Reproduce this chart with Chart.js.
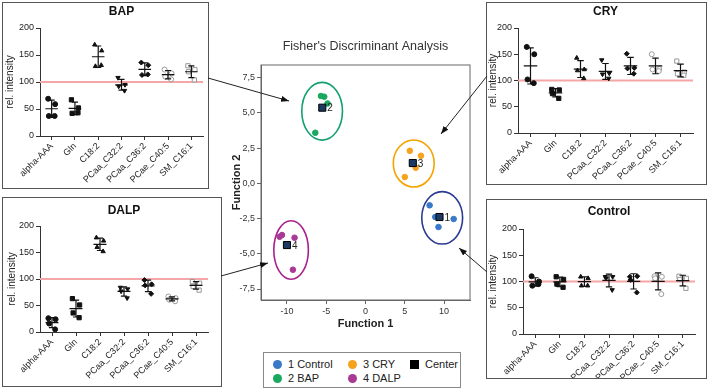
<!DOCTYPE html>
<html>
<head>
<meta charset="utf-8">
<script src="https://cdn.jsdelivr.net/npm/chart.js@4.4.1/dist/chart.umd.min.js"></script>
<style>
  body { margin: 0; width: 708px; height: 390px; background: #fff; position: relative; overflow: hidden;
         font-family: "Liberation Sans", Arial, sans-serif; }
  .panel { position: absolute; box-sizing: border-box; border: 1px solid #555; background: #fff; }
  .panel canvas, #fisher canvas { position: absolute; left: 0; top: 0; }
  #fisher { position: absolute; left: 222px; top: 28px; width: 254px; height: 306px; }
  #legend { position: absolute; left: 263px; top: 352px; width: 198px; height: 36px; box-sizing: border-box;
            border: 1px solid #888; padding: 4px 0 0 9px; display: grid; grid-auto-flow: column;
            grid-template-rows: 14px 14px; grid-template-columns: 75px 62px auto;
            font-size: 11px; color: #222; }
  #legend .item { display: flex; align-items: center; white-space: nowrap; }
  #legend .sw { width: 9px; height: 9px; border-radius: 50%; margin-right: 6px; }
  #legend .sq { border-radius: 0; background: #000; }
  #arrows { position: absolute; left: 0; top: 0; pointer-events: none; }
</style>
</head>
<body>
<div class="panel" style="left:2px;top:2px;width:207px;height:187px"><canvas id="bap" width="205" height="185"></canvas></div>
<div class="panel" style="left:2px;top:197px;width:220px;height:190px"><canvas id="dalp" width="218" height="188"></canvas></div>
<div class="panel" style="left:486px;top:2px;width:221px;height:183px"><canvas id="cry" width="219" height="181"></canvas></div>
<div class="panel" style="left:486px;top:199px;width:221px;height:180px"><canvas id="control" width="219" height="178"></canvas></div>
<div id="fisher"><canvas id="fisherCanvas" width="254" height="306"></canvas></div>
<div id="legend"></div>
<svg id="arrows" width="708" height="390">
  <defs>
    <marker id="ah" markerWidth="8" markerHeight="6" refX="8" refY="3" orient="auto" markerUnits="userSpaceOnUse">
      <path d="M0,0 L8,3 L0,6 z" fill="#111"/>
    </marker>
  </defs>
  <line x1="208" y1="78" x2="289" y2="101" stroke="#222" stroke-width="1" marker-end="url(#ah)"/>
  <line x1="487" y1="76" x2="441" y2="134" stroke="#222" stroke-width="1" marker-end="url(#ah)"/>
  <line x1="221" y1="276" x2="268" y2="263" stroke="#222" stroke-width="1" marker-end="url(#ah)"/>
  <line x1="487" y1="272" x2="459" y2="248" stroke="#222" stroke-width="1" marker-end="url(#ah)"/>
</svg>
<script>
// metabolites on the dot plots
const metabolites = ['alpha-AAA', 'Gln', 'C18:2', 'PCaa_C32:2', 'PCaa_C36:2', 'PCae_C40:5', 'SM_C16:1'];

// rel. intensity, 4 samples per metabolite
const bapValues = [[69, 59, 37, 37], [67, 52, 42, 43], [169, 158, 129, 131], [108, 95, 92, 84],
                   [136, 131, 113, 114], [123, 116, 110, 105], [130, 123, 119, 104]];
const cryValues = [[164, 150, 102, 95], [83, 82, 75, 66], [143, 121, 119, 104], [139, 114, 112, 104],
                   [151, 124, 123, 113], [150, 122, 121, 118], [137, 116, 113, 110]];
const dalpValues = [[26, 24, 16, 5], [63, 51, 36, 27], [178, 172, 160, 152], [84, 81, 77, 64],
                    [98, 90, 88, 72], [67, 64, 61, 58], [95, 92, 86, 79]];
const controlValues = [[110, 100, 92, 95], [109, 104, 95, 89], [109, 106, 92, 92], [109, 109, 106, 84],
                       [109, 110, 103, 79], [110, 109, 106, 76], [110, 106, 104, 87]];
const yTicks = [0, 50, 100, 150, 200];
const refLevel = 100;

// Fisher discriminant scores
const groupNames = ['1 Control', '2 BAP', '3 CRY', '4 DALP'];
const controlF1 = [8.16, 8.88, 11.22, 9.29];
const controlF2 = [-1.56, -2.39, -2.53, -3.1];
const bapF1 = [-5.67, -5.25, -4.83, -6.39];
const bapF2 = [6.2, 6.15, 5.67, 3.59];
const cryF1 = [5.64, 7.06, 6.39, 5.0];
const cryF2 = [2.31, 1.96, 1.11, 0.45];
const dalpF1 = [-10.93, -10.63, -9.03, -9.24];
const dalpF2 = [-3.79, -3.67, -3.86, -6.13];
const centerF1 = [9.42, -5.5, 6.02, -10.0];
const centerF2 = [-2.39, 5.37, 1.44, -4.38];
const centerLabels = ['1', '2', '3', '4'];
const ellipseCx = [9.76, -5.52, 6.14, -9.47];
const ellipseCy = [-2.45, 5.12, 1.41, -4.73];
const ellipseRx = [2.6, 2.59, 2.6, 2.2];
const ellipseRy = [1.86, 2.05, 1.67, 2.08];
const f1Ticks = [-10, -5, 0, 5, 10];
const f2Ticks = [-7.5, -5, -2.5, 0, 2.5, 5, 7.5];

const pointColors = ['#3a78c9', '#1aa860', '#f5a31c', '#a83a96'];
const ellipseColors = ['#2b3a92', '#13a070', '#f5a300', '#a8218c'];
const FONT = '"Liberation Sans", Arial, sans-serif';
Chart.defaults.font.family = FONT;
Chart.defaults.color = '#222';

const jitter = [-0.15, 0.15, -0.12, 0.13];
const markerStyles = [
  { style: 'circle', fill: '#111', stroke: '#111' },
  { style: 'rect', fill: '#111', stroke: '#111' },
  { style: 'triangle', fill: '#111', stroke: '#111' },
  { style: 'triangle', rot: 180, fill: '#111', stroke: '#111' },
  { style: 'rectRot', fill: '#111', stroke: '#111' },
  { style: 'circle', fill: '#fff', stroke: '#9a9a9a' },
  { style: 'rect', fill: '#fff', stroke: '#9a9a9a' }
];

function meanOf(a) { return a.reduce((s, v) => s + v, 0) / a.length; }
function sdOf(a) {
  const m = meanOf(a);
  return Math.sqrt(a.reduce((s, v) => s + (v - m) * (v - m), 0) / (a.length - 1));
}

// title centred over the plot area, like the original figure
const plotTitle = {
  id: 'plotTitle',
  afterDraw(chart, args, opts) {
    if (!opts.text) return;
    const ctx = chart.ctx, a = chart.chartArea;
    ctx.save();
    ctx.font = opts.font;
    ctx.fillStyle = opts.color || '#222';
    ctx.textAlign = 'center';
    ctx.textBaseline = 'middle';
    ctx.fillText(opts.text, (a.left + a.right) / 2, opts.y);
    ctx.restore();
  }
};

function buildPanel(id, name, values, lay) {
  const datasets = [];
  values.forEach((vals, i) => {
    const m = markerStyles[i];
    datasets.push({
      data: vals.map((v, j) => ({ x: i + jitter[j], y: v })),
      pointStyle: m.style,
      rotation: m.rot || 0,
      pointRadius: m.style === 'rect' ? 3 : 2.5,
      backgroundColor: m.fill,
      borderColor: m.stroke,
      borderWidth: 1,
      order: 1
    });
  });
  // mean line + SD whiskers
  const bars = [];
  values.forEach((vals, i) => {
    const m = meanOf(vals), s = sdOf(vals);
    bars.push({ x: i - 0.27, y: m }, { x: i + 0.27, y: m }, { x: i, y: null },
              { x: i, y: m - s }, { x: i, y: m + s }, { x: i, y: null },
              { x: i - 0.13, y: m + s }, { x: i + 0.13, y: m + s }, { x: i, y: null },
              { x: i - 0.13, y: m - s }, { x: i + 0.13, y: m - s }, { x: i, y: null });
  });
  datasets.push({ type: 'line', data: bars, borderColor: '#111', borderWidth: 1.2, pointRadius: 0, spanGaps: false, order: 0 });
  datasets.push({ type: 'line', data: [{ x: -0.5, y: refLevel }, { x: 6.5, y: refLevel }],
                  borderColor: '#f5a6a6', borderWidth: 2, pointRadius: 0, order: 5 });

  new Chart(document.getElementById(id), {
    type: 'scatter',
    data: { datasets: datasets },
    options: {
      responsive: false,
      animation: false,
      events: [],
      layout: { padding: { left: 0, right: lay.padRight, top: lay.top, bottom: 0 } },
      plugins: {
        legend: { display: false },
        tooltip: { enabled: false },
        plotTitle: { text: name, y: lay.titleY, font: 'bold 12px ' + FONT, color: '#111' }
      },
      scales: {
        x: {
          type: 'linear', min: -0.5, max: 6.5,
          afterBuildTicks: (axis) => { axis.ticks = metabolites.map((_, i) => ({ value: i })); },
          afterFit: (scale) => { scale.height = lay.xHeight; },
          ticks: { autoSkip: false, minRotation: 45, maxRotation: 45, padding: 1,
                   font: { size: 9 }, color: '#222', callback: (v) => metabolites[v] },
          grid: { drawOnChartArea: false, tickLength: 4, color: '#333' },
          border: { color: '#333', width: 1 }
        },
        y: {
          min: 0, max: 200,
          afterBuildTicks: (axis) => { axis.ticks = yTicks.map(v => ({ value: v })); },
          afterFit: (scale) => { scale.width = lay.yWidth; },
          ticks: { font: { size: 9 }, color: '#222', padding: 2 },
          grid: { drawOnChartArea: false, tickLength: 4, color: '#333' },
          border: { color: '#333', width: 1 },
          title: { display: true, text: 'rel. intensity', font: { size: 10 }, color: '#222',
                   padding: { top: lay.yTitlePad, bottom: 0 } }
        }
      }
    },
    plugins: [plotTitle]
  });
}

buildPanel('bap', 'BAP', bapValues, { top: 25, padRight: 0, xHeight: 52, yWidth: 37, titleY: 9, yTitlePad: 1 });
buildPanel('dalp', 'DALP', dalpValues, { top: 28, padRight: 13, xHeight: 54, yWidth: 37, titleY: 13, yTitlePad: 3 });
buildPanel('cry', 'CRY', cryValues, { top: 25, padRight: 13, xHeight: 51, yWidth: 31, titleY: 9, yTitlePad: 0 });
buildPanel('control', 'Control', controlValues, { top: 29, padRight: 11, xHeight: 44, yWidth: 36, titleY: 12, yTitlePad: 0 });

// ---- Fisher's discriminant scatter ----
const ellipses = {
  id: 'ellipses',
  beforeDatasetsDraw(chart) {
    const ctx = chart.ctx, xs = chart.scales.x, ys = chart.scales.y;
    ctx.save();
    ctx.lineWidth = 1.6;
    ellipseCx.forEach((cx, i) => {
      const px = xs.getPixelForValue(cx), py = ys.getPixelForValue(ellipseCy[i]);
      const rx = Math.abs(xs.getPixelForValue(cx + ellipseRx[i]) - px);
      const ry = Math.abs(ys.getPixelForValue(ellipseCy[i] + ellipseRy[i]) - py);
      ctx.strokeStyle = ellipseColors[i];
      ctx.beginPath();
      ctx.ellipse(px, py, rx, ry, 0, 0, Math.PI * 2);
      ctx.stroke();
    });
    ctx.restore();
  },
  afterDatasetsDraw(chart) {
    const ctx = chart.ctx, a = chart.chartArea, xs = chart.scales.x, ys = chart.scales.y;
    ctx.save();
    ctx.strokeStyle = '#666';
    ctx.lineWidth = 1;
    ctx.strokeRect(a.left, a.top, a.right - a.left, a.bottom - a.top);
    ctx.font = '10px ' + FONT;
    ctx.fillStyle = '#222';
    ctx.textBaseline = 'middle';
    centerF1.forEach((x, i) => {
      ctx.fillText(centerLabels[i], xs.getPixelForValue(x) + 5, ys.getPixelForValue(centerF2[i]) + 1);
    });
    ctx.restore();
  }
};

const groupF1 = [controlF1, bapF1, cryF1, dalpF1];
const groupF2 = [controlF2, bapF2, cryF2, dalpF2];
const fisherSets = groupF1.map((f1, g) => ({
  data: f1.map((x, j) => ({ x: x, y: groupF2[g][j] })),
  backgroundColor: pointColors[g], borderColor: pointColors[g], pointRadius: 2.8, borderWidth: 1, order: 1
}));
fisherSets.push({
  data: centerF1.map((x, i) => ({ x: x, y: centerF2[i] })),
  pointStyle: 'rect', pointRadius: 5, backgroundColor: '#1d3a63', borderColor: '#000', borderWidth: 1, order: 0
});

new Chart(document.getElementById('fisherCanvas'), {
  type: 'scatter',
  data: { datasets: fisherSets },
  options: {
    responsive: false,
    animation: false,
    events: [],
    layout: { padding: { left: 0, right: 4, top: 37, bottom: 0 } },
    plugins: {
      legend: { display: false },
      tooltip: { enabled: false },
      plotTitle: { text: "Fisher's Discriminant Analysis", y: 19, font: '12.5px ' + FONT, color: '#333' }
    },
    scales: {
      x: {
        type: 'linear', min: -13.3, max: 13.3,
        afterBuildTicks: (axis) => { axis.ticks = f1Ticks.map(v => ({ value: v })); },
        afterFit: (scale) => { scale.height = 34; },
        ticks: { font: { size: 9 }, color: '#333', padding: 2 },
        grid: { drawOnChartArea: false, tickLength: 4, color: '#666' },
        border: { color: '#666' },
        title: { display: true, text: 'Function 1', font: { size: 11, weight: 'bold' }, color: '#222',
                 padding: { top: 0, bottom: 3 } }
      },
      y: {
        min: -8.28, max: 8.4,
        afterBuildTicks: (axis) => { axis.ticks = f2Ticks.map(v => ({ value: v })); },
        afterFit: (scale) => { scale.width = 39; },
        ticks: { font: { size: 9 }, color: '#333', padding: 2,
                 callback: (v) => v.toFixed(1).replace('.', ',') },
        grid: { drawOnChartArea: false, tickLength: 4, color: '#666' },
        border: { color: '#666' },
        title: { display: true, text: 'Function 2', font: { size: 11, weight: 'bold' }, color: '#222',
                 padding: { top: 8, bottom: 0 } }
      }
    }
  },
  plugins: [plotTitle, ellipses]
});

// legend, column-wise like the original
const legend = document.getElementById('legend');
groupNames.forEach((name, g) => {
  const item = document.createElement('div');
  item.className = 'item';
  item.innerHTML = '<span class="sw" style="background:' + pointColors[g] + '"></span>' + name;
  legend.appendChild(item);
});
const centerItem = document.createElement('div');
centerItem.className = 'item';
centerItem.innerHTML = '<span class="sw sq"></span>Center';
legend.appendChild(centerItem);
</script>
</body>
</html>
